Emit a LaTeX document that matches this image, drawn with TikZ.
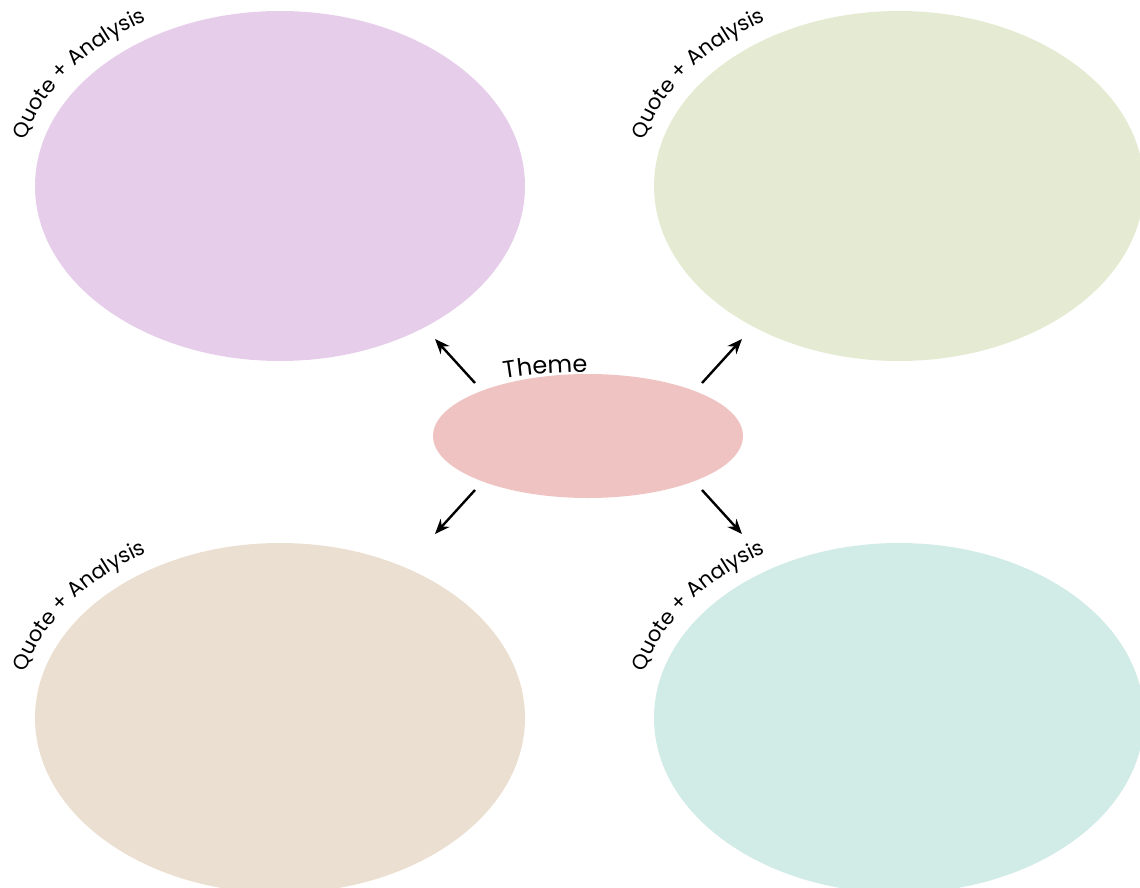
\documentclass[tikz,border=0pt]{standalone}
\usepackage{fontspec}
\setmainfont{Poppins}
\usetikzlibrary{shapes.geometric,decorations.text,arrows.meta}
\definecolor{cpurple}{HTML}{E6CEEB}
\definecolor{cgreen}{HTML}{E5EBD2}
\definecolor{ctan}{HTML}{EBDFD1}
\definecolor{cteal}{HTML}{D1EBE6}
\definecolor{cpink}{HTML}{EFC3C2}
\tikzset{
  bigoval/.style={ellipse, minimum width=490pt, minimum height=350pt, inner sep=0pt},
  arr/.style={line width=2.4pt, -{Stealth[length=15pt,width=12pt]}},
  curvetext/.style 2 args={decorate, decoration={text along path, text align=center,
     text={|\fontsize{#1}{#1}\selectfont|#2}}}
}
\begin{document}
\begin{tikzpicture}[x=1pt,y=1pt]
\useasboundingbox (0,0) rectangle (1140,-888);
\clip (0,0) rectangle (1140,-888);
\node[bigoval, fill=cpurple] (tl) at (280,-186) {};
\node[bigoval, fill=cgreen] (tr) at (899,-186) {};
\node[bigoval, fill=ctan] (bl) at (280,-718) {};
\node[bigoval, fill=cteal] (br) at (899,-718) {};
\node[ellipse, minimum width=310pt, minimum height=124pt, inner sep=0pt, fill=cpink] (c) at (588,-436) {};
% curved labels
\path[curvetext={21}{Quote + Analysis}] (tl.center) ++(172:262 and 192) arc[start angle=172, end angle=116, x radius=262, y radius=192];
\path[curvetext={21}{Quote + Analysis}] (tr.center) ++(172:262 and 192) arc[start angle=172, end angle=116, x radius=262, y radius=192];
\path[curvetext={21}{Quote + Analysis}] (bl.center) ++(172:262 and 192) arc[start angle=172, end angle=116, x radius=262, y radius=192];
\path[curvetext={21}{Quote + Analysis}] (br.center) ++(172:262 and 192) arc[start angle=172, end angle=116, x radius=262, y radius=192];
\path[curvetext={24}{Theme}] (c.center) ++(130:190 and 64) arc[start angle=130, end angle=78, x radius=190, y radius=64];
% arrows
\coordinate (s1) at (475,-383); \coordinate (e1) at (435,-339);
\coordinate (s2) at (702,-383); \coordinate (e2) at (742,-339);
\coordinate (s3) at (475,-490); \coordinate (e3) at (435,-534);
\coordinate (s4) at (702,-490); \coordinate (e4) at (742,-534);
\draw[arr] (s1) -- (e1);
\draw[arr] (s2) -- (e2);
\draw[arr] (s3) -- (e3);
\draw[arr] (s4) -- (e4);
\end{tikzpicture}
\end{document}
